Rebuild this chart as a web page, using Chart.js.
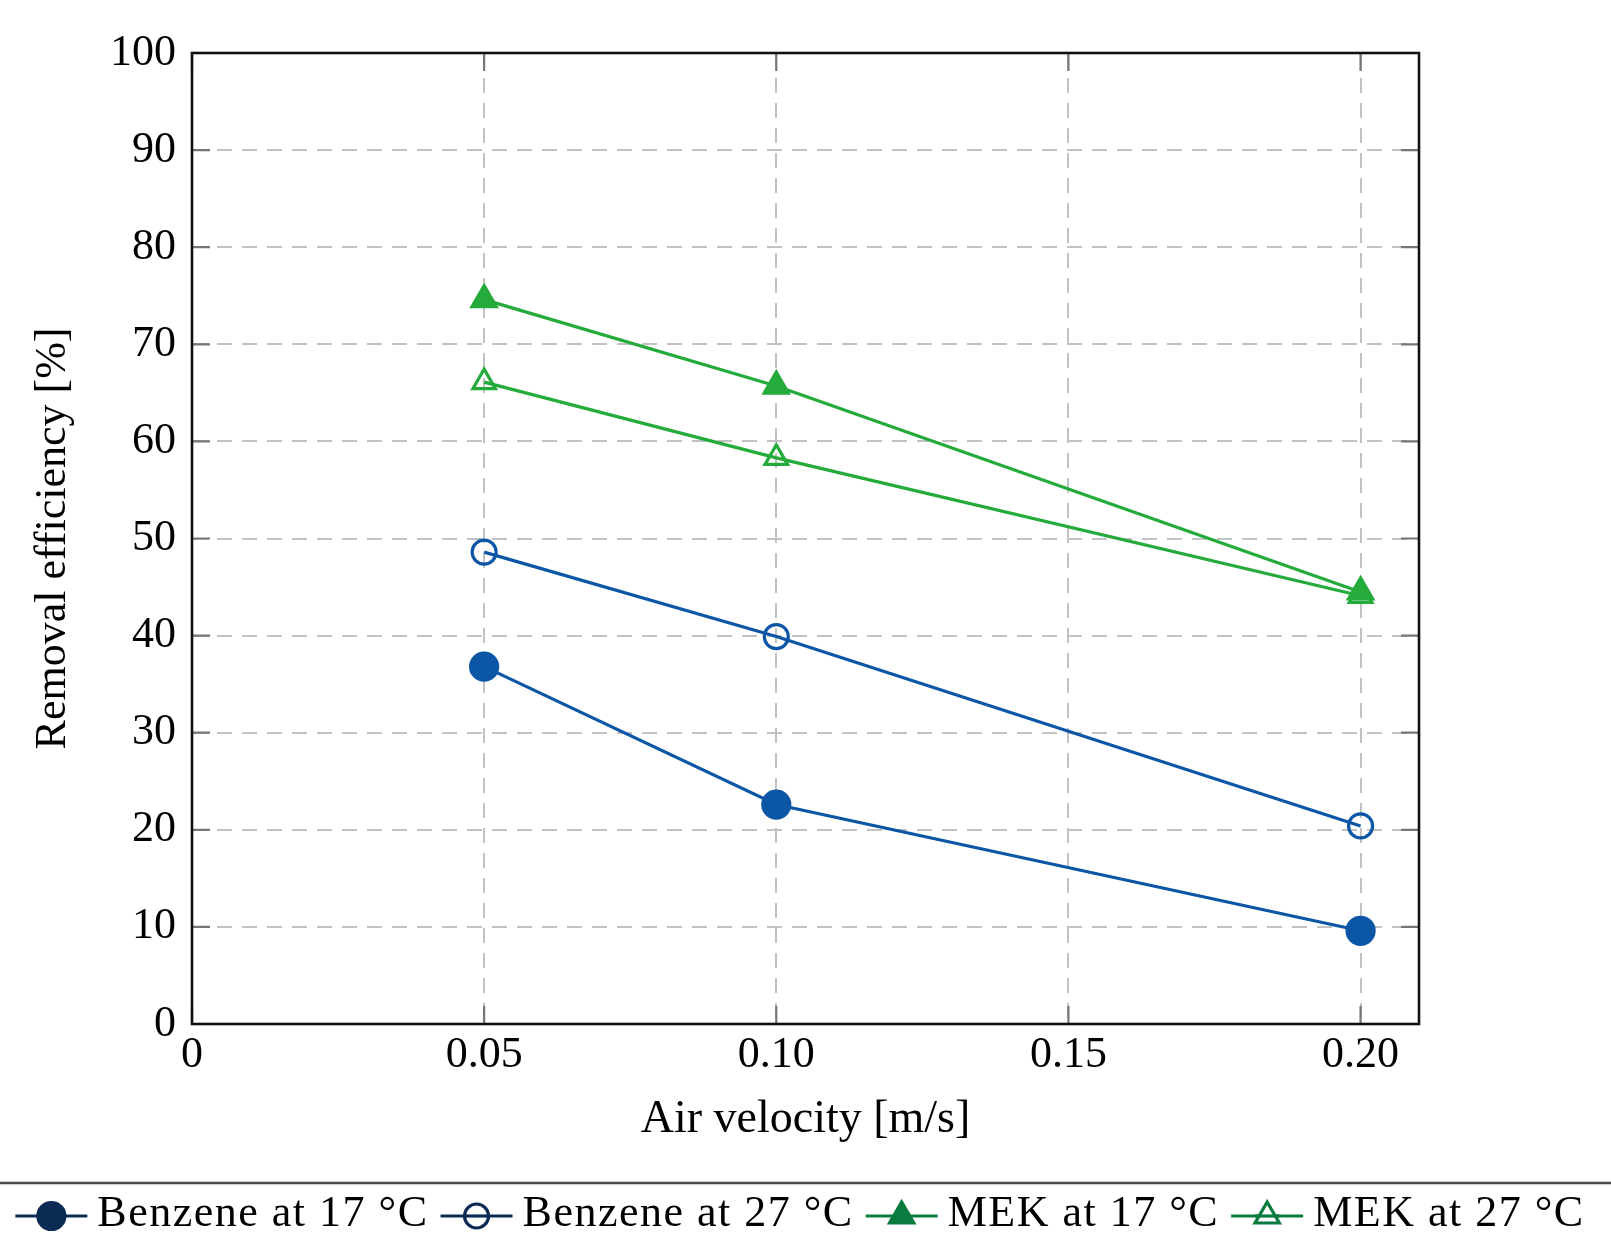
<!DOCTYPE html>
<html>
<head>
<meta charset="utf-8">
<script src="https://cdn.jsdelivr.net/npm/chart.js@4.4.0/dist/chart.umd.min.js"></script>
<style>
  html, body { margin: 0; padding: 0; background: #ffffff; }
  #wrap { width: 1611px; height: 1245px; position: relative; }
</style>
</head>
<body>
<div id="wrap"><canvas id="c"></canvas></div>
<script>
// ---- data ----
const airVelocity = [0.05, 0.10, 0.20];
const benzene17 = [36.8, 22.6, 9.6];
const benzene27 = [48.6, 39.9, 20.4];
const mek17 = [74.6, 65.7, 44.5];
const mek27 = [66.1, 58.3, 44.1];
const seriesNames = ['Benzene at 17 °C', 'Benzene at 27 °C', 'MEK at 17 °C', 'MEK at 27 °C'];
const xTickValues = [0, 0.05, 0.10, 0.15, 0.20];
const xTickLabels = ['0', '0.05', '0.10', '0.15', '0.20'];
const yTickValues = [0, 10, 20, 30, 40, 50, 60, 70, 80, 90, 100];
const xTitle = 'Air velocity [m/s]';
const yTitle = 'Removal efficiency [%]';

// ---- styles ----
const FONT = '"Liberation Serif", "DejaVu Serif", serif';
const BLUE = '#0b57a6';
const GREEN = '#25ab3b';
const LEG_BLUE = '#0b2b55';
const LEG_GREEN = '#0a7b3e';

function pts(ys) { return airVelocity.map((x, i) => ({ x: x, y: ys[i] })); }

const dsStyles = [
  { color: BLUE, style: 'circle', fill: true, r: 13.5, leg: LEG_BLUE },
  { color: BLUE, style: 'circle', fill: false, r: 12, leg: LEG_BLUE },
  { color: GREEN, style: 'triangle', fill: true, r: 14, leg: LEG_GREEN },
  { color: GREEN, style: 'triangle', fill: false, r: 13, leg: LEG_GREEN }
];
const seriesData = [benzene17, benzene27, mek17, mek27];

const datasets = seriesData.map((d, i) => {
  const s = dsStyles[i];
  return {
    label: seriesNames[i],
    data: pts(d),
    borderColor: s.color,
    backgroundColor: s.color,
    borderWidth: 3.2,
    pointStyle: s.style,
    pointRadius: s.r,
    pointBorderWidth: 3.2,
    pointBorderColor: s.color,
    pointBackgroundColor: s.fill ? s.color : 'rgba(0,0,0,0)',
    tension: 0,
    fill: false,
    clip: false
  };
});

const framePlugin = {
  id: 'frame',
  beforeDatasetsDraw(chart) {
    const { ctx, chartArea: a, scales } = chart;
    ctx.save();
    // inward ticks
    ctx.strokeStyle = '#767676';
    ctx.lineWidth = 2.2;
    const L = 18;
    yTickValues.forEach(v => {
      const y = scales.y.getPixelForValue(v);
      ctx.beginPath();
      ctx.moveTo(a.left, y); ctx.lineTo(a.left + L, y);
      ctx.moveTo(a.right, y); ctx.lineTo(a.right - L, y);
      ctx.stroke();
    });
    xTickValues.forEach(v => {
      const x = scales.x.getPixelForValue(v);
      ctx.beginPath();
      ctx.moveTo(x, a.bottom); ctx.lineTo(x, a.bottom - L);
      ctx.moveTo(x, a.top); ctx.lineTo(x, a.top + L);
      ctx.stroke();
    });
    // frame
    ctx.strokeStyle = '#111111';
    ctx.lineWidth = 2.6;
    ctx.strokeRect(a.left, a.top, a.right - a.left, a.bottom - a.top);
    ctx.restore();
  },
  afterDraw(chart) {
    const { ctx, width } = chart;
    ctx.save();
    // rule above legend
    ctx.strokeStyle = '#4a4a4a';
    ctx.lineWidth = 2.4;
    ctx.beginPath();
    ctx.moveTo(0, 1183); ctx.lineTo(width, 1183);
    ctx.stroke();
    // legend
    ctx.font = '44px ' + FONT;
    ctx.letterSpacing = '1.5px';
    const symW = 72, gapSym = 10, gapText = 12;
    const widths = seriesNames.map(t => ctx.measureText(t).width);
    let total = widths.reduce((s, w) => s + w, 0) + seriesNames.length * (symW + gapSym) + (seriesNames.length - 1) * gapText;
    let x = 800 - total / 2;
    const yLine = 1216;
    seriesNames.forEach((t, i) => {
      const s = dsStyles[i];
      ctx.strokeStyle = s.leg;
      ctx.lineWidth = 3.2;
      ctx.beginPath();
      ctx.moveTo(x, yLine); ctx.lineTo(x + symW, yLine);
      ctx.stroke();
      const cx = x + symW / 2;
      ctx.fillStyle = s.fill ? s.leg : '#ffffff';
      Chart.helpers.drawPoint(ctx, {
        pointStyle: s.style,
        radius: s.style === 'circle' ? (s.fill ? 13.5 : 12) : 14,
        rotation: 0,
        borderWidth: 3.2
      }, cx, yLine);
      if (!s.fill) {
        // line passing through open marker, as in the reference
        ctx.beginPath();
        ctx.moveTo(cx - 12, yLine); ctx.lineTo(cx + 12, yLine);
        ctx.stroke();
      }
      ctx.fillStyle = '#000000';
      ctx.textBaseline = 'middle';
      ctx.textAlign = 'left';
      ctx.fillText(t, x + symW + gapSym, yLine - 2);
      x += symW + gapSym + widths[i] + gapText;
    });
    ctx.restore();
  }
};

const gridCommon = {
  color: '#c2c2c2',
  lineWidth: 2,
  drawTicks: false
};

new Chart(document.getElementById('c'), {
  type: 'line',
  data: { datasets: datasets },
  options: {
    responsive: true,
    maintainAspectRatio: false,
    animation: false,
    events: [],
    layout: { padding: { left: 0, top: 53, right: 192, bottom: 0 } },
    plugins: { legend: { display: false }, tooltip: { enabled: false } },
    scales: {
      x: {
        type: 'linear',
        min: 0,
        max: 0.21,
        afterBuildTicks: (scale) => { scale.ticks = xTickValues.map(v => ({ value: v })); },
        afterFit: (scale) => { scale.height = 221; },
        ticks: {
          callback: (v, i) => xTickLabels[i],
          font: { family: FONT, size: 44 },
          color: '#000000',
          padding: 5,
          maxRotation: 0,
          autoSkip: false
        },
        grid: gridCommon,
        border: { display: false, dash: [15, 10] },
        title: {
          display: true,
          text: xTitle,
          font: { family: FONT, size: 46 },
          color: '#000000',
          padding: { top: 0, bottom: 97 }
        }
      },
      y: {
        min: 0,
        max: 100,
        afterBuildTicks: (scale) => { scale.ticks = yTickValues.map(v => ({ value: v })); },
        afterFit: (scale) => { scale.width = 192; },
        ticks: {
          font: { family: FONT, size: 44 },
          color: '#000000',
          padding: 16
        },
        grid: gridCommon,
        border: { display: false, dash: [15, 10] },
        title: {
          display: true,
          text: yTitle,
          font: { family: FONT, size: 44 },
          color: '#000000',
          padding: { top: 27, bottom: 0 }
        }
      }
    }
  },
  plugins: [framePlugin]
});
</script>
</body>
</html>
